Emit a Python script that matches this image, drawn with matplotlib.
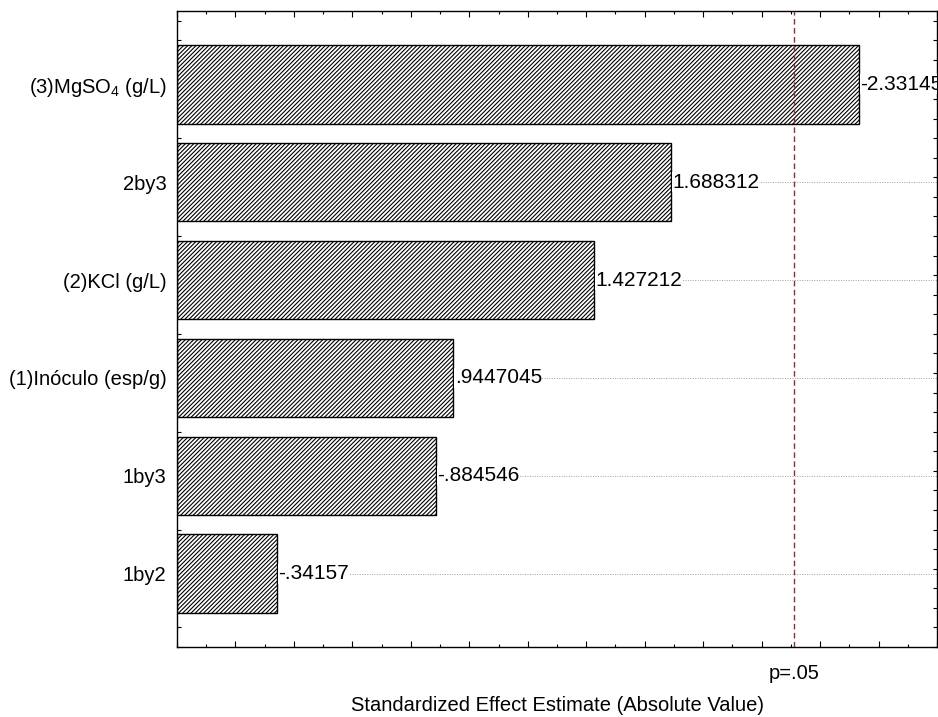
import numpy as np
import matplotlib
matplotlib.use("Agg")
import matplotlib.pyplot as plt
from matplotlib.ticker import MultipleLocator, FixedLocator

plt.rcParams["font.family"] = ["Liberation Sans", "DejaVu Sans"]
plt.rcParams["mathtext.default"] = "regular"
plt.rcParams["hatch.linewidth"] = 0.8

# effects, listed from top to bottom
factors = [r"(3)MgSO$_4$ (g/L)", "2by3", "(2)KCl (g/L)",
           "(1)Inóculo (esp/g)", "1by3", "1by2"]
effects = [-2.33145, 1.688312, 1.427212, 0.9447045, -0.884546, -0.34157]
p_crit = 2.1098


def stat_fmt(v):
    s = f"{v:.7g}"
    return s.replace("0.", ".", 1) if s.lstrip("-").startswith("0.") else s


n = len(factors)
ypos = np.arange(n)[::-1]
lengths = np.abs(effects)

fig = plt.figure(figsize=(9.38, 7.17), dpi=100)
ax = fig.add_axes([0.1887, 0.0976, 0.8103, 0.8871])

for y in ypos:
    ax.axhline(y, color="#a0a0a0", lw=0.7, ls=(0, (1, 1.5)), zorder=1)

ax.barh(ypos, lengths, height=0.8, color="white", edgecolor="black",
        hatch="////////", linewidth=1.0, zorder=2)

# value labels; the widest one gets clipped by the right spine
for y, v, L in zip(ypos, effects, lengths):
    ax.text(L + 0.005, y, stat_fmt(v), va="center", ha="left", fontsize=15,
            clip_on=True, zorder=3,
            bbox=dict(facecolor="white", edgecolor="none", pad=0.3))

ax.axvline(p_crit, color="#8b3030", lw=1.0, ls=(0, (4, 2.5)), zorder=4)
ax.annotate("p=.05", xy=(p_crit, 0), xycoords=("data", "axes fraction"),
            xytext=(0, -12), textcoords="offset points", ha="center",
            va="top", fontsize=14.5)

ax.set_xlim(0, 2.6)
ax.set_ylim(-0.75, n - 0.25)

ax.set_yticks(ypos)
ax.set_yticklabels(factors, fontsize=14.5)
ax.yaxis.set_minor_locator(FixedLocator(np.arange(-0.75, n - 0.25, 0.2)))
ax.tick_params(axis="y", which="major", length=0, pad=7.5)
ax.tick_params(axis="y", which="minor", direction="in", length=3,
               left=True, right=True, width=0.8)

ax.xaxis.set_major_locator(MultipleLocator(0.2))
ax.xaxis.set_minor_locator(MultipleLocator(0.1))
ax.tick_params(axis="x", which="major", direction="in", length=4,
               width=0.8, labelbottom=False, top=True)
ax.tick_params(axis="x", which="minor", direction="in", length=2,
               width=0.8, top=True)
for s in ax.spines.values():
    s.set_linewidth(1.0)

ax.set_xlabel("Standardized Effect Estimate (Absolute Value)", fontsize=14.5,
              labelpad=32)

fig.savefig("out.png", dpi=100)
